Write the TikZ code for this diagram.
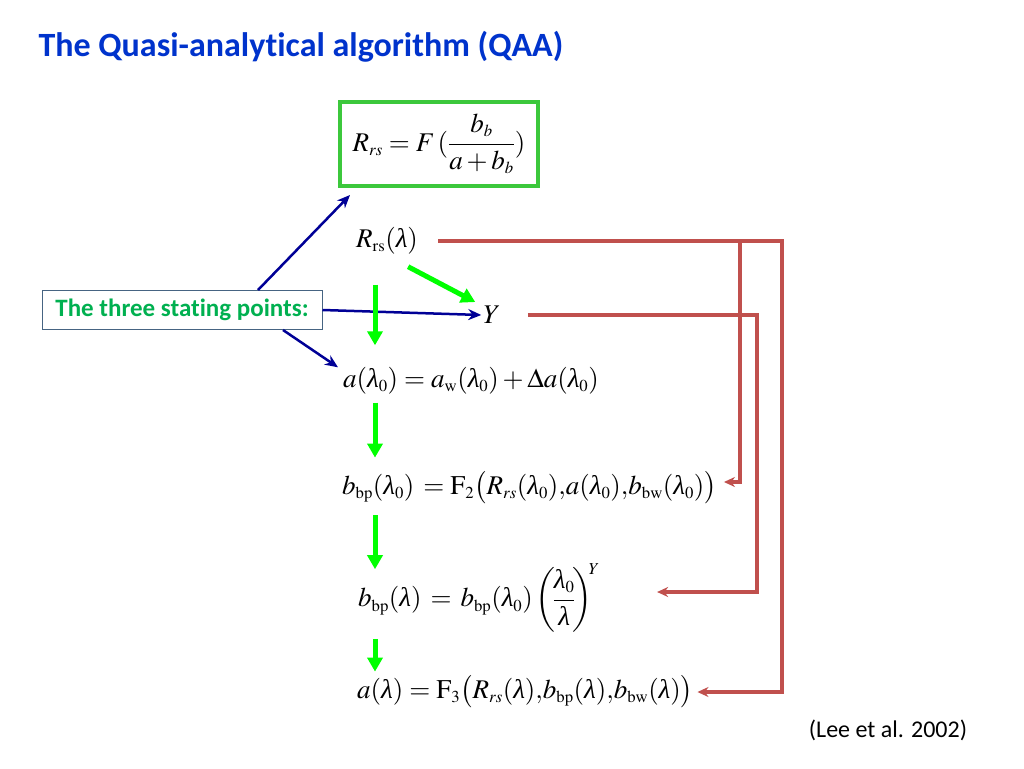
\documentclass[tikz,border=0pt]{standalone}
\usepackage{amsmath}
\usepackage{mathptmx}
\usepackage{fontspec}
\setmainfont{Liberation Serif}
\newfontfamily\calibri[Ligatures=NoCommon]{Carlito}
\usetikzlibrary{arrows.meta,positioning}
\definecolor{titleblue}{RGB}{0,51,204}
\definecolor{pointgreen}{RGB}{0,176,80}
\definecolor{boxgreen}{RGB}{60,200,60}
\definecolor{stepgreen}{RGB}{0,255,0}
\definecolor{linknavy}{RGB}{0,0,150}
\definecolor{backred}{RGB}{192,80,77}
\definecolor{edgeslate}{RGB}{70,100,130}
\newcommand{\lam}{\text{\itshape λ}}
\renewcommand{\defaultscriptratio}{.62}
\renewcommand{\defaultscriptscriptratio}{.48}

\begin{document}
\begin{tikzpicture}[x=1pt, y=-1pt,
  headline/.style={anchor=west, text=titleblue, font=\calibri\bfseries\fontsize{34}{40}\selectfont},
  pointsbox/.style={draw=edgeslate, line width=1pt, minimum width=280pt, minimum height=39pt, text=pointgreen, font=\calibri\bfseries\fontsize{25}{30}\selectfont},
  eqn/.style={anchor=west, inner sep=2pt, font=\fontsize{27}{32}\selectfont},
  eqbox/.style={eqn, anchor=center, draw=boxgreen, line width=4pt, minimum width=198pt, minimum height=84pt},
  refnote/.style={font=\calibri\fontsize{24}{28}\selectfont},
  navyarr/.style={linknavy, line width=2.5pt, -{Stealth[length=13pt, width=11pt]}},
  greenarr/.style={stepgreen, line width=5pt, -{Triangle[length=14pt, width=15pt]}},
  redarr/.style={backred, line width=4pt, -{Stealth[length=11pt, width=10pt]}}
]
\useasboundingbox (0,0) rectangle (1024,768);

\node[headline] (title) at (35,47) {The Quasi-analytical algorithm (QAA)};
\node[eqbox] (model) at (439,144) {$R_{rs} = F\,(\dfrac{b_b}{a+b_b})$};
\node[pointsbox] (start) at (182,310) {The three stating points:};

\node[eqn] (rrs) at (354,241) {$R_{\mathrm{rs}}(\lam)$};
\node[eqn, anchor=center] (y) at (492,315) {$Y$};
\node[eqn] (a0) at (341,381) {$a(\lam_0) = a_{\mathrm{w}}(\lam_0) + \Delta a(\lam_0)$};
\node[eqn] (bbp0) at (340,488) {$b_{\mathrm{bp}}(\lam_0)\,=\mathrm{F}_2\bigl(R_{rs}(\lam_0){,}a(\lam_0){,}b_{\mathrm{bw}}(\lam_0)\bigr)$};
\node[eqn] (bbpl) at (356,598) {$b_{\mathrm{bp}}(\lam)\,=\,b_{\mathrm{bp}}(\lam_0)\left(\!\dfrac{\lam_0}{\lam}\!\right)^{\mkern-4mu Y}$};
\node[eqn] (f3) at (355,692) {$a(\lam) = \mathrm{F}_3\bigl(R_{rs}(\lam){,}b_{\mathrm{bp}}(\lam){,}b_{\mathrm{bw}}(\lam)\bigr)$};

\node[refnote] (cite) at (888,730) {(Lee et al. 2002)};

\coordinate (colx) at (375,0);
\coordinate (outer) at (782,0);
\coordinate (inner) at (740,0);
\coordinate (mid) at (757,0);

\draw[navyarr] ([xshift=76pt]start.north) -- ([shift={(12,7)}]model.south west);
\draw[navyarr] (start.east) -- (y.west);
\draw[navyarr] ([xshift=101pt]start.south) -- ([shift={(-3,2)}]a0.north west);

\draw[greenarr] ([shift={(-12,10)}]rrs.south east) -- ([shift={(-6,-2)}]y.north west);
\draw[greenarr, shorten <=28pt, shorten >=20pt] (rrs.south -| colx) -- (a0.north -| colx);
\draw[greenarr, shorten <=6pt, shorten >=12pt] (a0.south -| colx) -- (bbp0.north -| colx);
\draw[greenarr, shorten <=9pt, shorten >=-8pt] (bbp0.south -| colx) -- (bbpl.north -| colx);
\draw[greenarr, shorten <=4pt, shorten >=2pt] (bbpl.south -| colx) -- (f3.north -| colx);

\draw[redarr, shorten >=5pt] (rrs.east -| inner) -- ([yshift=6pt]bbp0.east -| inner) -- ([yshift=6pt]bbp0.east);
\draw[redarr, shorten <=18pt, shorten >=2pt] (rrs.east) -- (rrs.east -| outer) -- (f3.east -| outer) -- (f3.east);
\draw[redarr, shorten <=25pt, shorten >=55pt] (y.east) -- (y.east -| mid) -- ([yshift=6pt]bbpl.east -| mid) -- ([yshift=6pt]bbpl.east);
\end{tikzpicture}
\end{document}
